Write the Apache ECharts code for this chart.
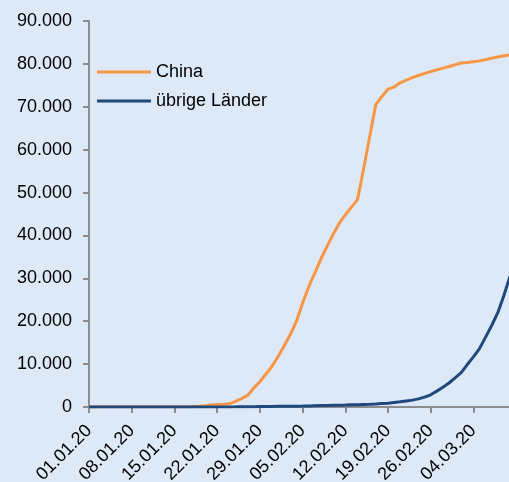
<!DOCTYPE html>
<html>
<head>
<meta charset="utf-8">
<script src="https://cdn.jsdelivr.net/npm/echarts@6/dist/echarts.min.js"></script>
<style>
    html, body { margin: 0; padding: 0; background: #dde9f7; }
    #chart { width: 509px; height: 482px; }
</style>
</head>
<body>
<div id="chart"></div>
<script>
// 日期（01.01.20 - 10.03.20）
const dates = [];
for (let i = 0; i < 70; i++) {
    const d = new Date(2020, 0, 1 + i);
    const dd = String(d.getDate()).padStart(2, '0');
    const mm = String(d.getMonth() + 1).padStart(2, '0');
    dates.push(dd + '.' + mm + '.20');
}

// 中国累计病例
const china = [
    27, 27, 44, 44, 59, 59, 59, 59, 59, 59,
    41, 41, 41, 41, 41, 45, 62, 121, 198, 291,
    440, 571, 640, 750, 1300, 1950, 2700, 4400, 5900, 7700,
    9500, 11800, 14300, 16900, 20000, 24200, 28000, 31200, 34500, 37400,
    40200, 42800, 44800, 46600, 48300, 55500, 63000, 70500, 72400, 74100,
    74600, 75600, 76200, 76800, 77300, 77800, 78200, 78600, 79000, 79400,
    79800, 80200, 80300, 80500, 80700, 81000, 81300, 81600, 81900, 82100
];

// 其他国家累计病例
const others = [
    0, 0, 0, 0, 0, 0, 0, 0, 0, 0,
    0, 0, 0, 1, 1, 1, 1, 2, 3, 4,
    6, 9, 14, 25, 35, 50, 60, 80, 100, 120,
    130, 150, 160, 180, 200, 220, 260, 300, 330, 360,
    400, 420, 450, 500, 540, 590, 640, 700, 800, 900,
    1050, 1200, 1400, 1600, 1900, 2300, 2850, 3700, 4600, 5600,
    6800, 8000, 9900, 11700, 13600, 16300, 19000, 22000, 26000, 30500
];

const seriesNames = ['China', 'übrige Länder'];

const chart = echarts.init(document.getElementById('chart'));

const fontFamily = 'Liberation Sans, Arial, sans-serif';
const axisColor = '#8c8c8c';

const option = {
    backgroundColor: '#dde9f7',
    animation: false,
    grid: {
        left: 89,
        right: -1,
        top: 21,
        bottom: 75,
        outerBoundsMode: 'none',
        containLabel: false
    },
    legend: {
        orient: 'vertical',
        left: 92,
        top: 58,
        itemWidth: 54,
        itemHeight: 3,
        itemGap: 11,
        icon: 'rect',
        textStyle: {
            color: '#000',
            fontSize: 18,
            fontFamily: fontFamily
        },
        data: seriesNames
    },
    xAxis: {
        type: 'category',
        data: dates,
        boundaryGap: false,
        axisLine: { lineStyle: { color: axisColor, width: 2 } },
        axisTick: {
            interval: 6,
            length: 6,
            lineStyle: { color: axisColor, width: 2 }
        },
        axisLabel: {
            interval: 6,
            rotate: 45,
            margin: 21,
            color: '#000',
            fontSize: 18,
            fontFamily: fontFamily
        }
    },
    yAxis: {
        type: 'value',
        min: 0,
        max: 90000,
        interval: 10000,
        splitLine: { show: false },
        axisLine: { show: true, lineStyle: { color: axisColor, width: 2 } },
        axisTick: {
            show: true,
            length: 6,
            lineStyle: { color: axisColor, width: 2 }
        },
        axisLabel: {
            margin: 17,
            color: '#000',
            fontSize: 18,
            fontFamily: fontFamily,
            formatter: function (v) {
                return String(v).replace(/\B(?=(\d{3})+(?!\d))/g, '.');
            }
        }
    },
    series: [
        {
            name: seriesNames[0],
            type: 'line',
            data: china,
            symbol: 'none',
            color: '#f79646',
            lineStyle: { width: 3, color: '#f79646' },
            z: 2
        },
        {
            name: seriesNames[1],
            type: 'line',
            data: others,
            symbol: 'none',
            color: '#1f497d',
            lineStyle: { width: 3, color: '#1f497d' },
            z: 3
        }
    ]
};

chart.setOption(option);
</script>
</body>
</html>
